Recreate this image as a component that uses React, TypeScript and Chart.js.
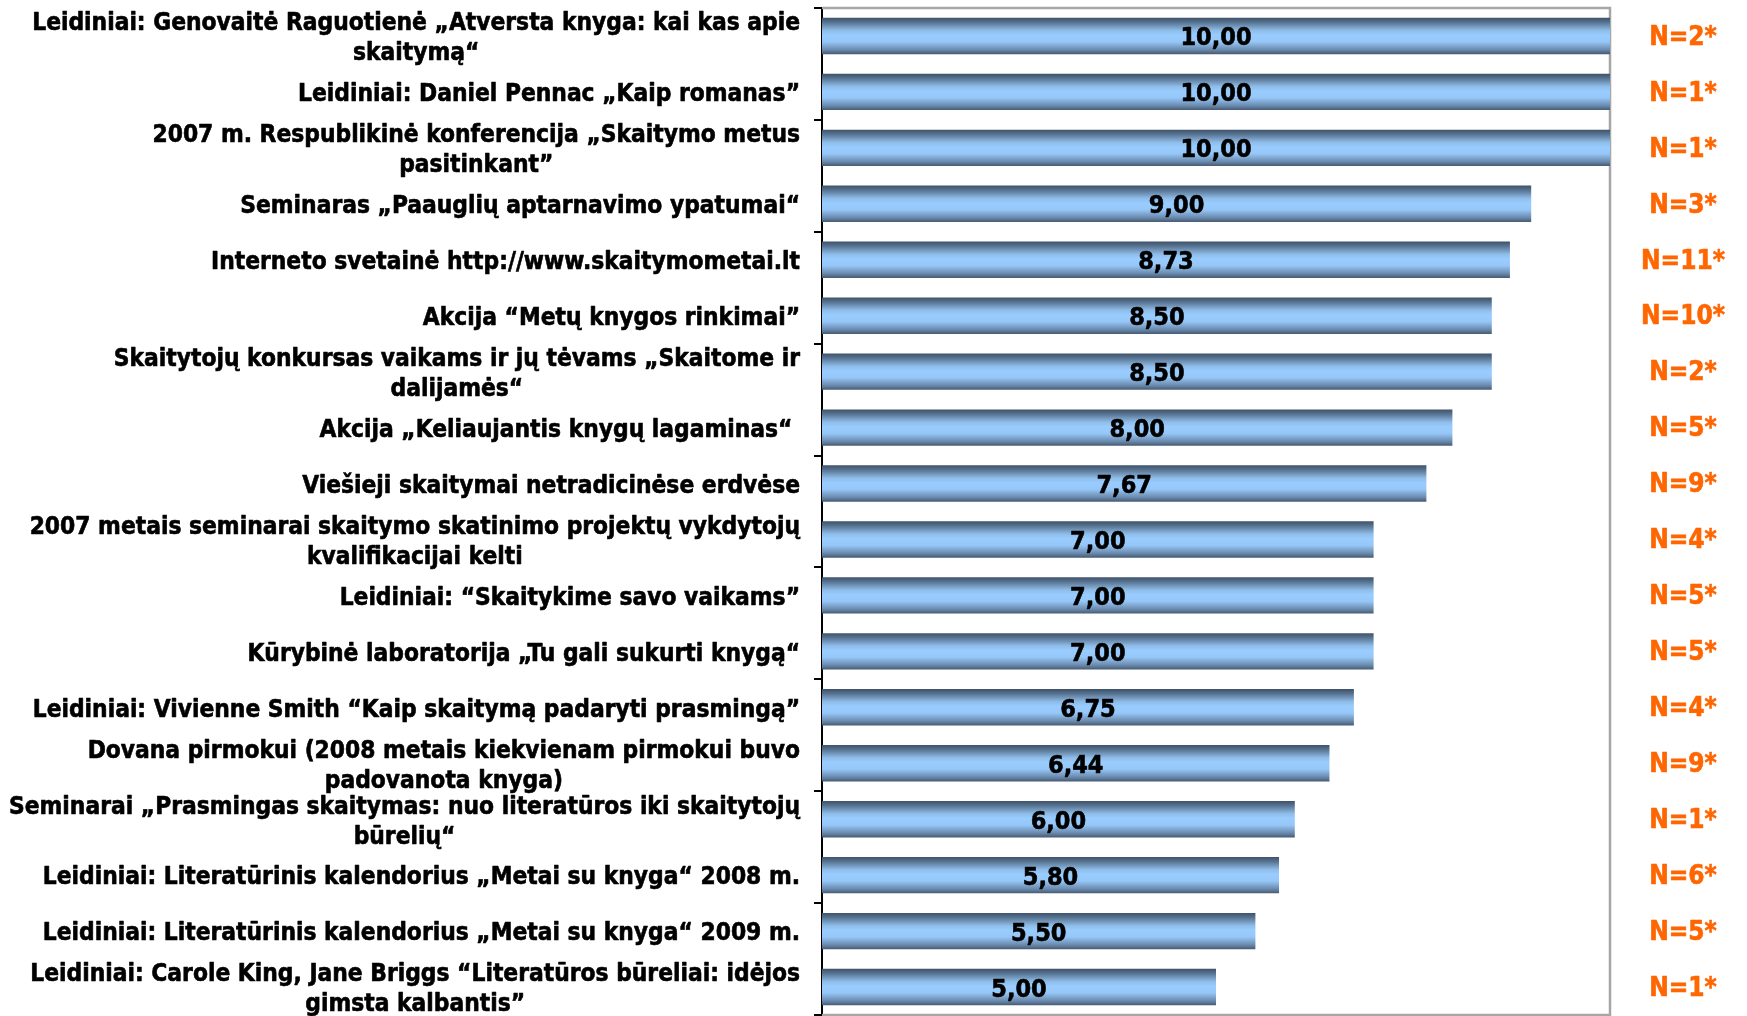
import React, { useEffect, useRef } from "react";
import { Chart, registerables } from "chart.js";

Chart.register(...registerables);

const categories: (string | string[])[] = [
  ["Leidiniai: Genovaitė Raguotienė „Atversta knyga: kai kas apie", "skaitymą“"],
  "Leidiniai: Daniel Pennac „Kaip romanas”",
  ["2007 m. Respublikinė konferencija „Skaitymo metus", "pasitinkant”"],
  "Seminaras „Paauglių aptarnavimo ypatumai“",
  "Interneto svetainė http://www.skaitymometai.lt",
  "Akcija “Metų knygos rinkimai”",
  ["Skaitytojų konkursas vaikams ir jų tėvams „Skaitome ir", "dalijamės“"],
  "Akcija „Keliaujantis knygų lagaminas“ ",
  "Viešieji skaitymai netradicinėse erdvėse",
  ["2007 metais seminarai skaitymo skatinimo projektų vykdytojų", "kvalifikacijai kelti"],
  "Leidiniai: “Skaitykime savo vaikams”",
  "Kūrybinė laboratorija „Tu gali sukurti knygą“",
  "Leidiniai: Vivienne Smith “Kaip skaitymą padaryti prasmingą”",
  ["Dovana pirmokui (2008 metais kiekvienam pirmokui buvo", "padovanota knyga)"],
  ["Seminarai „Prasmingas skaitymas: nuo literatūros iki skaitytojų", "būrelių“"],
  "Leidiniai: Literatūrinis kalendorius „Metai su knyga“ 2008 m.",
  "Leidiniai: Literatūrinis kalendorius „Metai su knyga“ 2009 m.",
  ["Leidiniai: Carole King, Jane Briggs “Literatūros būreliai: idėjos", "gimsta kalbantis”"],
];

const scores: number[] = [10, 10, 10, 9, 8.73, 8.5, 8.5, 8, 7.67, 7, 7, 7, 6.75, 6.44, 6, 5.8, 5.5, 5];

const respondents: number[] = [2, 1, 1, 3, 11, 10, 2, 5, 9, 4, 5, 5, 4, 9, 1, 6, 5, 1];

const FONT = '"DejaVu Sans Condensed", "DejaVu Sans", Verdana, sans-serif';
const BAR_PCT = 0.65;

export default function App() {
  const ref = useRef<HTMLCanvasElement>(null);

  useEffect(() => {
    const canvas = ref.current;
    if (!canvas) return;

    const heavyText = (ctx: CanvasRenderingContext2D, t: string, x: number, y: number) => {
      ctx.fillText(t, x, y);
      ctx.strokeText(t, x, y);
    };

    const decor = {
      id: "decor",
      beforeDatasetsDraw(chart: any) {
        const { ctx, chartArea: a } = chart;
        ctx.save();
        ctx.strokeStyle = "#a6a6a6";
        ctx.lineWidth = 2.5;
        ctx.beginPath();
        ctx.moveTo(a.left, a.top);
        ctx.lineTo(a.right, a.top);
        ctx.lineTo(a.right, a.bottom);
        ctx.lineTo(a.left, a.bottom);
        ctx.stroke();
        ctx.restore();
      },
      afterDatasetsDraw(chart: any) {
        const { ctx, chartArea: a } = chart;
        const yScale = chart.scales.y;
        const meta = chart.getDatasetMeta(0);
        ctx.save();
        ctx.textBaseline = "middle";
        ctx.textAlign = "center";
        ctx.lineWidth = 0.6;
        ctx.lineJoin = "round";
        // value labels
        ctx.font = `bold 25px ${FONT}`;
        ctx.fillStyle = "#000";
        ctx.strokeStyle = "#000";
        meta.data.forEach((bar: any, i: number) => {
          const txt = scores[i].toFixed(2).replace(".", ",");
          heavyText(ctx, txt, (bar.base + bar.x) / 2, bar.y + 3);
        });
        // N labels
        ctx.font = `bold 26px ${FONT}`;
        ctx.fillStyle = "#ff6600";
        ctx.strokeStyle = "#ff6600";
        meta.data.forEach((bar: any, i: number) => {
          heavyText(ctx, `N=${respondents[i]}*`, a.right + 73, bar.y + 2);
        });
        // category labels
        ctx.font = `bold 24.3px ${FONT}`;
        ctx.fillStyle = "#000";
        ctx.strokeStyle = "#000";
        const right = a.left - 22;
        const lh = 30;
        categories.forEach((lab, i) => {
          const lines = Array.isArray(lab) ? lab : [lab];
          const w = Math.max(...lines.map((l) => ctx.measureText(l).width));
          const cx = right - w / 2;
          const yc = yScale.getPixelForValue(i) + 3;
          lines.forEach((l, k) => {
            heavyText(ctx, l, cx, yc + (k - (lines.length - 1) / 2) * lh);
          });
        });
        ctx.restore();
      },
    };

    const chart = new Chart(canvas, {
      type: "bar",
      data: {
        labels: categories.map((c) => (Array.isArray(c) ? c.join(" ") : c)),
        datasets: [
          {
            data: scores,
            barPercentage: BAR_PCT,
            categoryPercentage: 1,
            borderWidth: 0,
            backgroundColor: (c: any) => {
              const ch = c.chart;
              const ys = ch.scales?.y;
              const area = ch.chartArea;
              if (!ys || !area || c.dataIndex === undefined) return "#99ccff";
              const yc = ys.getPixelForValue(c.dataIndex);
              const h = ((area.bottom - area.top) / categories.length) * BAR_PCT;
              const g = ch.ctx.createLinearGradient(0, yc - h / 2, 0, yc + h / 2);
              g.addColorStop(0, "#3e5269");
              g.addColorStop(0.12, "#56718f");
              g.addColorStop(0.35, "#8fbde9");
              g.addColorStop(0.48, "#99ccff");
              g.addColorStop(0.66, "#96c7f8");
              g.addColorStop(0.88, "#6a8aad");
              g.addColorStop(1, "#465a73");
              return g;
            },
          },
        ],
      },
      options: {
        indexAxis: "y",
        animation: false,
        responsive: true,
        maintainAspectRatio: false,
        layout: { padding: { left: 0, top: 8, right: 137, bottom: 1 } },
        plugins: {
          legend: { display: false },
          tooltip: { enabled: false },
          title: { display: false },
        },
        scales: {
          x: {
            display: false,
            min: 0,
            max: 10,
          },
          y: {
            type: "category",
            offset: true,
            grid: {
              display: true,
              offset: true,
              drawOnChartArea: false,
              drawTicks: true,
              tickLength: 8,
              lineWidth: 2,
              color: (c: any) =>
                c.index === undefined || c.index % 2 === 0 ? "#000" : "rgba(0,0,0,0)",
            },
            border: { display: true, color: "#000", width: 2 },
            ticks: { display: false },
            afterFit: (s: any) => {
              s.width = 822;
            },
          },
        },
      },
      plugins: [decor],
    } as any);

    return () => chart.destroy();
  }, []);

  return (
    <div style={{ position: "fixed", left: 0, top: 0, width: 1747, height: 1016, background: "#fff" }}>
      <canvas ref={ref} />
    </div>
  );
}
